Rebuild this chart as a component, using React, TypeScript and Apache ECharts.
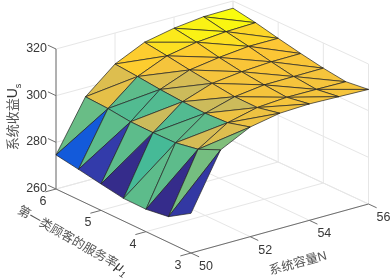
import React, { useEffect, useRef } from "react";
import * as echarts from "echarts";

const nValues = [50, 51, 52, 53, 54, 55, 56];
const muValues = [6, 5.5, 5, 4.5, 4, 3.5, 3];
const nTicks = [50, 52, 54, 56];
const muTicks = [6, 5, 4, 3];
const zTicks = [260, 280, 300, 320];

// surface heights, one list per mu row (mu = 6 ... 3), N = 50 ... 56
const zMu60 = [274.6, 296.1, 306.7, 312.6, 315.2, 316.7, 316.9];
const zMu55 = [273, 295.6, 305.9, 311.3, 313.7, 314.8, 315.2];
const zMu50 = [271.3, 294.5, 304.9, 309.8, 311.7, 313, 313];
const zMu45 = [269.7, 294.4, 304.2, 308.6, 310.1, 310.9, 311];
const zMu40 = [269.6, 294.6, 303.8, 307.4, 309, 309.1, 309.2];
const zMu35 = [271, 296.4, 304.3, 307.3, 308.2, 308.1, 307.9];
const zMu30 = [277, 300.7, 307, 309.4, 309.9, 309.5, 309.1];
const zRows = [zMu60, zMu55, zMu50, zMu45, zMu40, zMu35, zMu30];

// flat colour value of each triangle, per N strip, per mu step
const upper50 = [296, 295, 295, 293, 295, 297];
const lower50 = [274.6, 271.6, 269.8, 295, 269.8, 271.2];
const upper51 = [306, 295, 294, 294, 295, 306];
const lower51 = [307, 294, 304, 295, 305, 298];
const upper52 = [311, 309, 305, 308, 304, 308];
const lower52 = [311, 306, 304, 304, 308, 308];
const upper53 = [314, 311, 309, 309, 309, 309];
const lower53 = [313, 310, 309, 309, 309, 308.5];
const upper54 = [315, 313, 310, 309.5, 309, 309];
const lower54 = [315, 312, 309.5, 309, 309, 309];
const upper55 = [316, 312, 310, 309.5, 309, 309];
const lower55 = [315.5, 312, 310, 309, 309, 309];
const upperFaces = [upper50, upper51, upper52, upper53, upper54, upper55];
const lowerFaces = [lower50, lower51, lower52, lower53, lower54, lower55];

const cMin = 269.6;
const cMax = 316;
const parulaStops: [number, number[]][] = [
  [0, [53, 42, 135]],
  [0.0625, [50, 67, 186]],
  [0.094, [32, 83, 212]],
  [0.125, [3, 99, 225]],
  [0.25, [20, 129, 214]],
  [0.375, [7, 156, 207]],
  [0.5, [68, 186, 152]],
  [0.625, [135, 191, 119]],
  [0.75, [209, 187, 89]],
  [0.875, [254, 198, 52]],
  [1, [249, 251, 14]],
];

function parula(z: number) {
  const t = Math.max(0, Math.min(1, (z - cMin) / (cMax - cMin)));
  for (let k = 1; k < parulaStops.length; k++) {
    const [t1, c1] = parulaStops[k];
    const [t0, c0] = parulaStops[k - 1];
    if (t <= t1) {
      const f = (t - t0) / (t1 - t0);
      const c = c0.map((v, q) => Math.round(v + (c1[q] - v) * f));
      return `rgb(${c[0]},${c[1]},${c[2]})`;
    }
  }
  return "rgb(249,251,14)";
}

// oblique view: floor corners in page pixels
const cornerL = [56, 189];
const cornerF = [191, 253];
const cornerR = [368.5, 204];
const cornerB = [233, 141];
const zPx = 140 / 60;

function project(n: number, mu: number, z: number): number[] {
  const u = (n - 50) / 6;
  const v = (6 - mu) / 3;
  const x =
    (1 - u) * (1 - v) * cornerL[0] + (1 - u) * v * cornerF[0] + u * v * cornerR[0] + u * (1 - v) * cornerB[0];
  const y =
    (1 - u) * (1 - v) * cornerL[1] + (1 - u) * v * cornerF[1] + u * v * cornerR[1] + u * (1 - v) * cornerB[1];
  return [x, y - (z - 260) * zPx];
}

// triangles, back to front
const faceData: number[][] = [];
for (let i = nValues.length - 2; i >= 0; i--) {
  for (let j = 0; j < muValues.length - 1; j++) {
    faceData.push([i, j, 0, upperFaces[i][j]]);
    faceData.push([i, j, 1, lowerFaces[i][j]]);
  }
}

// segments in data space: n1, mu1, z1, n2, mu2, z2
const gridLines: number[][] = [];
for (const z of zTicks) {
  gridLines.push([50, 6, z, 56, 6, z]);
  gridLines.push([56, 6, z, 56, 3, z]);
}
for (const n of nTicks) {
  gridLines.push([n, 6, 260, n, 6, 320]);
  gridLines.push([n, 6, 260, n, 3, 260]);
}
for (const mu of muTicks) {
  gridLines.push([56, mu, 260, 56, mu, 320]);
  gridLines.push([50, mu, 260, 56, mu, 260]);
}

const axisLines: number[][] = [
  [50, 6, 260, 50, 6, 320],
  [50, 6, 260, 50, 3, 260],
  [50, 3, 260, 56, 3, 260],
];
const tickLen = 0.36;
for (const z of zTicks) axisLines.push([50, 6, z, 50, 6 + 0.18, z]);
for (const mu of muTicks) axisLines.push([50, mu, 260, 50 - tickLen, mu, 260]);
for (const n of nTicks) axisLines.push([n, 3, 260, n, 3 - 0.18, 260]);

const segmentItem = (color: string, width: number) => (_: any, api: any) => {
  const a = project(api.value(0), api.value(1), api.value(2));
  const b = project(api.value(3), api.value(4), api.value(5));
  const p = api.coord(a);
  const q = api.coord(b);
  return {
    type: "line",
    shape: { x1: p[0], y1: p[1], x2: q[0], y2: q[1] },
    style: { stroke: color, lineWidth: width, fill: "none" },
  };
};

const textColor = "#383838";
const cjkColor = "#555555";
const numFont = "Liberation Sans";
const cjkFont = '"Liberation Sans", "Noto Sans CJK SC"';

function buildOption() {
  const labels: any[] = [];
  const num = (text: string, x: number, y: number, align: string) => ({
    type: "text",
    x,
    y,
    style: { text, fontFamily: numFont, fontSize: 12.5, fill: textColor, align, verticalAlign: "middle" },
  });
  zTicks.forEach((z) => {
    const p = project(50, 6, z);
    labels.push(num(String(z), p[0] - 9, p[1] - 1, "right"));
  });
  muTicks.forEach((mu) => {
    const p = project(50, mu, 260);
    labels.push(num(String(mu), p[0] - 13, p[1] + 12, "center"));
  });
  nTicks.forEach((n) => {
    const p = project(n, 3, 260);
    labels.push(num(String(n), p[0] + 15, p[1] + 13, "center"));
  });
  const titleStyle = {
    fontFamily: cjkFont,
    fontSize: 13,
    fill: cjkColor,
    align: "center",
    verticalAlign: "middle",
  };
  labels.push({
    type: "text",
    x: 12,
    y: 117,
    rotation: Math.PI / 2,
    style: {
      ...titleStyle,
      text: "{a|系统收益}{u|U}{s|s}",
      rich: {
        a: { fontFamily: cjkFont, fontSize: 13, fill: cjkColor, lineHeight: 20 },
        u: { fontFamily: numFont, fontSize: 14, fill: "#333333", lineHeight: 20 },
        s: { fontFamily: numFont, fontSize: 9, fill: "#333333", verticalAlign: "bottom", lineHeight: 20 },
      },
    },
  });
  labels.push({
    type: "text",
    x: 73,
    y: 240,
    rotation: (-29.5 * Math.PI) / 180,
    style: {
      ...titleStyle,
      text: "{a|第一类顾客的服务率}{m|μ}{s|1}",
      rich: {
        a: { fontFamily: cjkFont, fontSize: 12.5, fill: cjkColor, lineHeight: 20 },
        m: { fontFamily: numFont, fontSize: 13.5, fontStyle: "italic", fill: "#333333", lineHeight: 20 },
        s: { fontFamily: numFont, fontSize: 9, fontStyle: "italic", fill: "#333333", verticalAlign: "bottom", lineHeight: 20 },
      },
    },
  });
  labels.push({
    type: "text",
    x: 298,
    y: 263,
    rotation: (15.5 * Math.PI) / 180,
    style: { ...titleStyle, fontSize: 12.5, text: "系统容量N" },
  });

  return {
    animation: false,
    backgroundColor: "#ffffff",
    grid: { left: 0, right: 0, top: 0, bottom: 0 },
    xAxis: { type: "value", min: 0, max: 392, show: false },
    yAxis: { type: "value", min: 0, max: 280, inverse: true, show: false },
    series: [
      {
        type: "custom",
        coordinateSystem: "cartesian2d",
        clip: false,
        silent: true,
        z: 1,
        data: gridLines,
        renderItem: segmentItem("#e6e6e6", 1),
      },
      {
        type: "custom",
        coordinateSystem: "cartesian2d",
        clip: false,
        silent: true,
        z: 2,
        data: axisLines,
        renderItem: segmentItem("#6e6e6e", 1),
      },
      {
        type: "custom",
        coordinateSystem: "cartesian2d",
        clip: false,
        silent: true,
        z: 3,
        data: faceData,
        renderItem: (_: any, api: any) => {
          const i = api.value(0);
          const j = api.value(1);
          const kind = api.value(2);
          const vertex = (a: number, b: number) =>
            api.coord(project(nValues[a], muValues[b], zRows[b][a]));
          const pts =
            kind === 0
              ? [vertex(i, j), vertex(i + 1, j), vertex(i + 1, j + 1)]
              : [vertex(i, j), vertex(i + 1, j + 1), vertex(i, j + 1)];
          return {
            type: "polygon",
            shape: { points: pts },
            style: { fill: parula(api.value(3)), stroke: "#242424", lineWidth: 0.7, lineJoin: "round" },
          };
        },
      },
    ],
    graphic: { elements: labels },
  };
}

export default function App() {
  const ref = useRef<HTMLDivElement>(null);
  useEffect(() => {
    const chart = echarts.init(ref.current!, undefined, { renderer: "svg" });
    chart.setOption(buildOption() as any);
    return () => chart.dispose();
  }, []);
  return (
    <div
      ref={ref}
      style={{ position: "absolute", left: 0, top: 0, width: 392, height: 280, filter: "blur(0.3px)" }}
    />
  );
}
